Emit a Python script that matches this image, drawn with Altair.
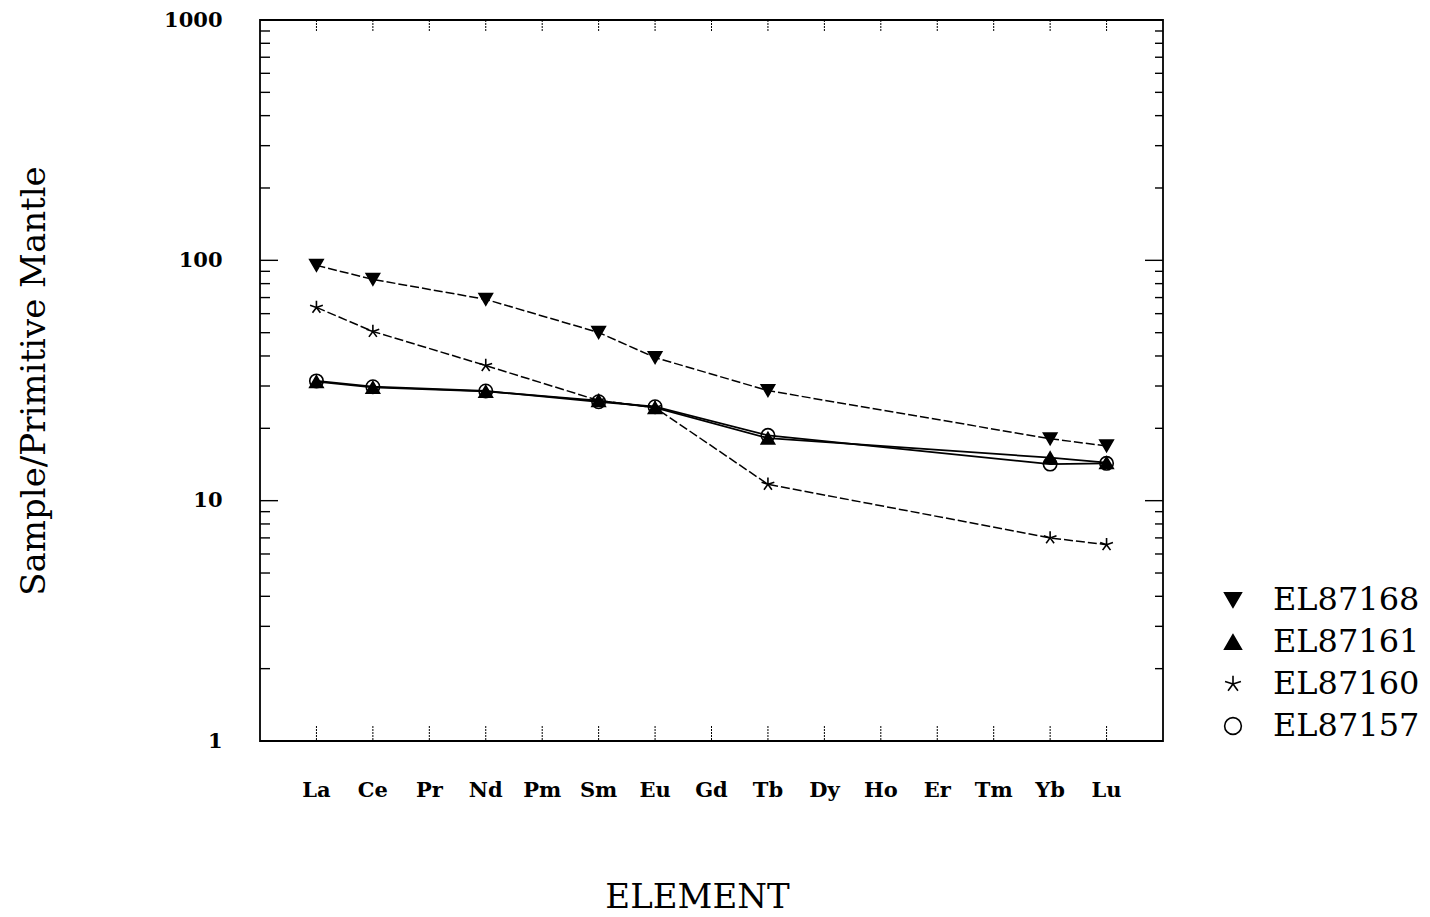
import altair as alt
import pandas as pd

# Rare earth elements along the x axis (all positions, measured or not)
elements = ["La", "Ce", "Pr", "Nd", "Pm", "Sm", "Eu", "Gd", "Tb", "Dy",
            "Ho", "Er", "Tm", "Yb", "Lu"]
# Elements actually analysed
measured = ["La", "Ce", "Nd", "Sm", "Eu", "Tb", "Yb", "Lu"]

# Primitive-mantle normalised abundances per sample
el87168 = [95.3, 83.3, 68.8, 50.1, 39.4, 28.7, 18.1, 16.9]
el87161 = [31.3, 29.6, 28.5, 26.1, 24.4, 18.2, 15.1, 14.4]
el87160 = [63.7, 50.6, 36.5, 26.1, 24.4, 11.7, 7.0, 6.56]
el87157 = [31.5, 29.8, 28.6, 25.8, 24.6, 18.7, 14.2, 14.3]

samples = ["EL87168", "EL87161", "EL87160", "EL87157"]
series = [el87168, el87161, el87160, el87157]
dashed_samples = ["EL87168", "EL87160"]

# Log-axis tick values for the inward frame ticks
minor_ticks = [2, 3, 4, 5, 6, 7, 8, 9, 20, 30, 40, 50, 60, 70, 80, 90,
               200, 300, 400, 500, 600, 700, 800, 900]
major_ticks = [10, 100]

rows = []
for name, vals in zip(samples, series):
    for el, v in zip(measured, vals):
        rows.append({"Sample": name, "Element": el, "Value": v,
                     "idx": elements.index(el)})
df = pd.DataFrame(rows)

W, H = 903, 721
SERIF = "DejaVu Serif"

x_scale = alt.Scale(domain=elements, padding=1)
y_scale = alt.Scale(type="log", domain=[1, 1000])

asterisk = ("M0,-1L0,0M0,0L0.95,-0.31M0,0L0.59,0.81M0,0L-0.59,0.81"
            "M0,0L-0.95,-0.31")

x_axis = alt.Axis(title="ELEMENT", labelAngle=0, ticks=False,
                  domain=False, grid=False, labelPadding=38,
                  labelFont=SERIF, labelFontSize=21,
                  labelFontWeight="bold", labelColor="black",
                  titleFont=SERIF, titleFontSize=34,
                  titleFontWeight="normal", titleColor="black",
                  titlePadding=80, titleX=437)
y_axis = alt.Axis(title="Sample/Primitive Mantle",
                  values=[1, 10, 100, 1000], format="d",
                  ticks=False, domain=False, grid=False,
                  labelPadding=38, labelFont=SERIF,
                  labelFontSize=21, labelFontWeight="bold",
                  labelColor="black", titleFont=SERIF,
                  titleFontSize=34, titleFontWeight="normal",
                  titleColor="black", titlePadding=112)


def xe():
    return alt.X("Element:N", scale=x_scale, sort=elements, axis=x_axis)


def ye():
    return alt.Y("Value:Q", scale=y_scale, axis=y_axis)


base = alt.Chart(df)

dashed_lines = base.transform_filter(
    alt.FieldOneOfPredicate(field="Sample", oneOf=dashed_samples)
).mark_line(color="black", strokeWidth=1.5, strokeDash=[9, 3]).encode(
    x=xe(), y=ye(), detail="Sample:N", order="idx:Q")

solid_lines = base.transform_filter(
    ~alt.FieldOneOfPredicate(field="Sample", oneOf=dashed_samples)
).mark_line(color="black", strokeWidth=1.8).encode(
    x=xe(), y=ye(), detail="Sample:N", order="idx:Q")

points = base.mark_point(strokeWidth=1.6, opacity=1, size=180).encode(
    x=xe(), y=ye(),
    shape=alt.Shape("Sample:N", title=None,
                    scale=alt.Scale(domain=samples,
                                    range=["triangle-down", "triangle-up",
                                           asterisk, "circle"])),
    fill=alt.Fill("Sample:N", title=None,
                  scale=alt.Scale(domain=samples,
                                  range=["black", "black", "transparent",
                                         "transparent"])),
    stroke=alt.Stroke("Sample:N", title=None,
                      scale=alt.Scale(domain=samples,
                                      range=["black", "black", "black",
                                             "black"])),
)

minor_df = pd.DataFrame({"Value": minor_ticks})
major_df = pd.DataFrame({"Value": major_ticks})
cat_df = pd.DataFrame({"Element": elements})


def y_ticks(data, length, left):
    x0, x1 = (0, length) if left else (W - length, W)
    return alt.Chart(data).mark_rule(color="black", strokeWidth=1.4).encode(
        y=ye(), x=alt.value(x0), x2=alt.value(x1))


def x_ticks(y0, y1):
    return alt.Chart(cat_df).mark_rule(color="black", strokeWidth=1,
                                       strokeDash=[2, 1]).encode(
        x=xe(), y=alt.value(y0), y2=alt.value(y1))


chart = alt.layer(
    dashed_lines, solid_lines, points,
    y_ticks(minor_df, 10, True), y_ticks(major_df, 18, True),
    y_ticks(minor_df, 8, False), y_ticks(major_df, 18, False),
    x_ticks(0, 12), x_ticks(H - 15, H),
).properties(
    width=W, height=H,
    background="white",
    autosize=alt.AutoSizeParams(type="none"),
    padding={"left": 260, "top": 20, "right": 267, "bottom": 176},
).configure_view(
    stroke="black", strokeWidth=1.8
).configure_legend(
    orient="none", legendX=957, legendY=564, padding=0,
    labelFont=SERIF, labelFontSize=32, labelColor="black",
    labelOffset=24, symbolSize=280, symbolStrokeWidth=1.6,
    symbolStrokeColor="black", rowPadding=10, labelLimit=400,
)

chart.save("out.html", embed_options={"renderer": "svg", "actions": False})
